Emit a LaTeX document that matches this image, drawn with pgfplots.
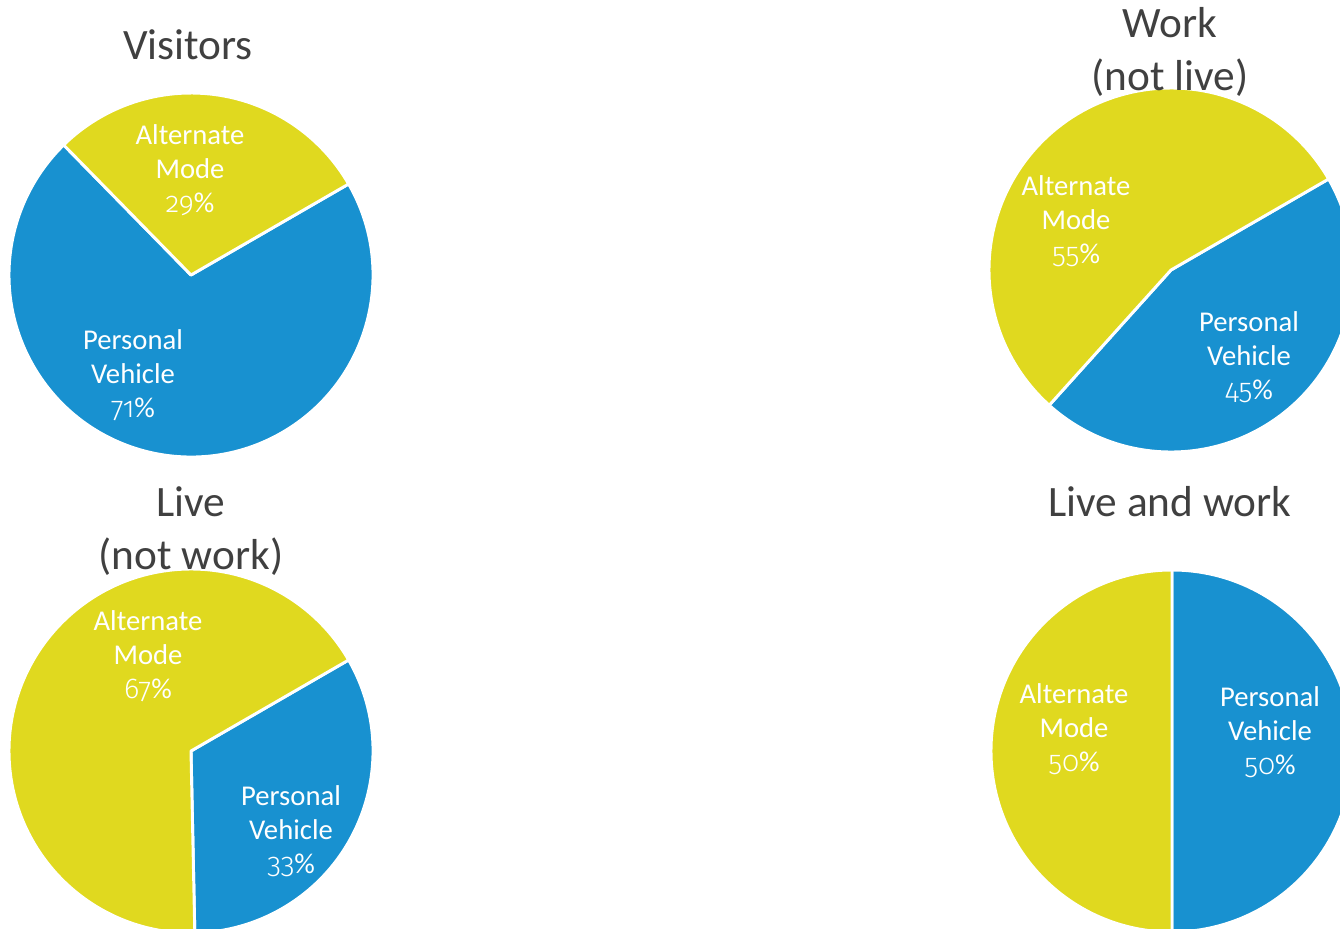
\documentclass[border=0pt]{standalone}
\usepackage{pgfplots}
\pgfplotsset{compat=1.18}
\usepackage{pgfplotstable}
\usepackage{fontspec}
\setmainfont{Carlito}
\newfontfamily\osf{Fira Sans Light}[Numbers=OldStyle, Scale=1.0]

\definecolor{pvblue}{HTML}{1891D0}
\definecolor{amyellow}{HTML}{E0D91F}
\definecolor{titlegray}{HTML}{404040}

% mode split in percent; start = angle where the first (personal vehicle) slice begins
\pgfplotstableread{
group pv am start
Visitors 71 29 30
Work 45 55 30
Live 33 67 30
LiveWork 50 50 90
}\modesplit

% read one row into \pvshare, \amshare and the slice angles
\newcommand{\getsplit}[1]{%
  \pgfplotstablegetelem{#1}{pv}\of\modesplit \let\pvshare\pgfplotsretval
  \pgfplotstablegetelem{#1}{am}\of\modesplit \let\amshare\pgfplotsretval
  \pgfplotstablegetelem{#1}{start}\of\modesplit \let\startangle\pgfplotsretval
  \pgfmathsetmacro\midangle{\startangle-3.6*\pvshare}
  \pgfmathsetmacro\endangle{\startangle-360}
}

\newcommand{\slice}[4]{%
  \filldraw[fill=#4, draw=white, line width=2.2pt, line join=round]
    (axis cs:0,0) -- ++(#1:#3) arc[start angle=#1, end angle=#2, radius=#3] -- cycle;
}

\pgfplotsset{
  pieaxis/.style={hide axis, scale only axis, clip=false, anchor=origin,
    width=271.5pt, height=271.5pt, xmin=-181, xmax=181, ymin=-181, ymax=181},
}
\tikzset{
  lbl/.style={text=white, align=center, font=\fontsize{21.5}{25.5}\selectfont},
  ttl/.style={text=titlegray, align=center, font=\fontsize{32.5}{40}\selectfont},
}

\begin{document}
\begin{tikzpicture}
\useasboundingbox (0,0) rectangle (1005pt,-696.75pt);
\clip (0,0) rectangle (1005pt,-696.75pt);

% Visitors
\getsplit{0}
\begin{axis}[pieaxis, at={(143.25pt,-206.25pt)}]
\slice{\startangle}{\midangle}{136.5pt}{pvblue}
\slice{\midangle}{\endangle}{136.5pt}{amyellow}
\node[lbl] at (axis cs:-1,105) {Alternate\\Mode\\{\osf\amshare}\%};
\node[lbl] at (axis cs:-58,-100) {Personal\\Vehicle\\{\osf\pvshare}\%};
\node[ttl] at (axis cs:-3,230) {Visitors};
\end{axis}

% Work (not live)
\getsplit{1}
\begin{axis}[pieaxis, at={(878.25pt,-202.5pt)}]
\slice{\startangle}{\midangle}{136.5pt}{pvblue}
\slice{\midangle}{\endangle}{136.5pt}{amyellow}
\node[lbl] at (axis cs:-95,49) {Alternate\\Mode\\{\osf\amshare}\%};
\node[lbl] at (axis cs:78,-87) {Personal\\Vehicle\\{\osf\pvshare}\%};
\node[ttl] at (axis cs:-1,218) {Work\\(not live)};
\end{axis}

% Live (not work)
\getsplit{2}
\begin{axis}[pieaxis, at={(143.25pt,-563.25pt)}]
\slice{\startangle}{\midangle}{136.5pt}{pvblue}
\slice{\midangle}{\endangle}{136.5pt}{amyellow}
\node[lbl] at (axis cs:-43,95) {Alternate\\Mode\\{\osf\amshare}\%};
\node[lbl] at (axis cs:100,-80) {Personal\\Vehicle\\{\osf\pvshare}\%};
\node[ttl] at (axis cs:0,220) {Live\\(not work)};
\end{axis}

% Live and work
\getsplit{3}
\begin{axis}[pieaxis, at={(879pt,-563.25pt)}, width=270pt, height=270pt,
  xmin=-180, xmax=180, ymin=-180, ymax=180]
\slice{\startangle}{\midangle}{135.75pt}{pvblue}
\slice{\midangle}{\endangle}{135.75pt}{amyellow}
\node[lbl] at (axis cs:-98,22) {Alternate\\Mode\\{\osf\amshare}\%};
\node[lbl] at (axis cs:98,19) {Personal\\Vehicle\\{\osf\pvshare}\%};
\node[ttl] at (axis cs:-2,249) {Live and work};
\end{axis}
\end{tikzpicture}
\end{document}
